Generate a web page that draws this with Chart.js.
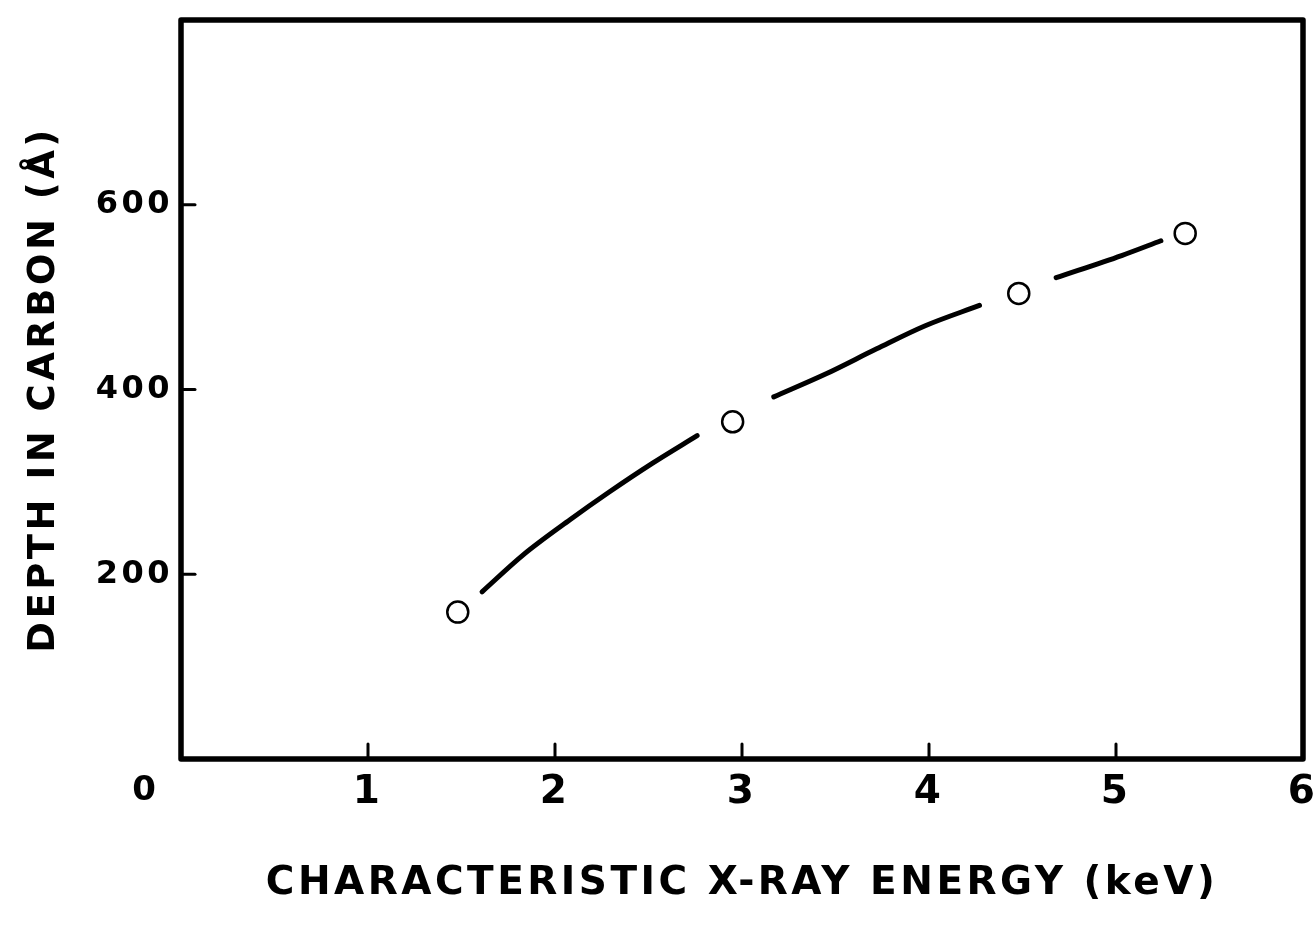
<!DOCTYPE html>
<html>
<head>
<meta charset="utf-8">
<script src="https://cdn.jsdelivr.net/npm/chart.js@4/dist/chart.umd.min.js"></script>
<style>
  html,body{margin:0;padding:0;background:#fff;}
  #wrap{width:1316px;height:933px;position:relative;}
</style>
</head>
<body>
<div id="wrap"><canvas id="c"></canvas></div>
<script>
// measured points (keV, Å)
const energyKeV = [1.48, 2.95, 4.48, 5.37];
const depthA    = [159, 365, 504, 569];

// hand-drawn guide curve, null = break around a marker
const curveX = [1.61, 1.83, 2.08, 2.29, 2.52, 2.76, 2.95, 3.17, 3.45, 3.72, 3.98, 4.27, 4.48, 4.68, 5.03, 5.24];
const curveY = [181,  221,  259,  289,  320,  350,  null, 392,  417,  444,  469,  491,  null, 521,  545,  561];

const xTicks = [0, 1, 2, 3, 4, 5, 6];
const yTicks = [200, 400, 600];

const INK = '#000';
Chart.defaults.font.family = "'DejaVu Sans', sans-serif";
Chart.defaults.color = INK;

// frame + inward tick marks + the offset "0" label; wide lettering for the axes
const frame = {
  id: 'frame',
  beforeDraw(chart) {
    chart.ctx.letterSpacing = '3.5px';
  },
  beforeDatasetsDraw(chart) {
    const {ctx, chartArea: a, scales: {x, y}} = chart;
    ctx.letterSpacing = '0px';
    ctx.save();
    ctx.strokeStyle = INK;
    ctx.lineCap = 'round';
    ctx.lineWidth = 3;
    xTicks.filter(v => v > 0 && v < 6).forEach(v => {
      const px = x.getPixelForValue(v);
      ctx.beginPath(); ctx.moveTo(px, a.bottom); ctx.lineTo(px, a.bottom - 15); ctx.stroke();
    });
    yTicks.forEach(v => {
      const py = y.getPixelForValue(v);
      ctx.beginPath(); ctx.moveTo(a.left, py); ctx.lineTo(a.left + 14, py); ctx.stroke();
    });
    ctx.lineWidth = 5.5;
    ctx.lineJoin = 'round';
    ctx.strokeRect(a.left, a.top, a.right - a.left, a.bottom - a.top);
    ctx.restore();
  },
  afterDraw(chart) {
    const {ctx, chartArea: a, scales: {x}} = chart;
    ctx.save();
    ctx.fillStyle = INK;
    ctx.font = "bold 34px 'DejaVu Sans'";
    ctx.textAlign = 'center';
    ctx.textBaseline = 'middle';
    ctx.fillText('0', x.getPixelForValue(0) - 37, a.bottom + 32);
    ctx.restore();
  }
};

new Chart(document.getElementById('c'), {
  type: 'scatter',
  data: {
    datasets: [
      {
        label: 'points',
        data: energyKeV.map((e, i) => ({x: e, y: depthA[i]})),
        pointStyle: 'circle',
        pointRadius: 10.5,
        pointBorderWidth: 2.5,
        pointBorderColor: INK,
        pointBackgroundColor: '#fff',
        showLine: false,
        order: 0
      },
      {
        label: 'curve',
        data: curveX.map((e, i) => ({x: e, y: curveY[i]})),
        showLine: true,
        spanGaps: false,
        borderColor: INK,
        borderWidth: 5,
        borderCapStyle: 'round',
        cubicInterpolationMode: 'monotone',
        pointRadius: 0,
        order: 1
      }
    ]
  },
  options: {
    responsive: true,
    maintainAspectRatio: false,
    animation: false,
    layout: {padding: {top: 20, right: 12, bottom: 0, left: 0}},
    plugins: {legend: {display: false}, tooltip: {enabled: false}},
    scales: {
      x: {
        type: 'linear', min: 0, max: 6,
        afterFit: s => { s.height = 174; s.paddingLeft = 0; s.paddingRight = 0; },
        afterBuildTicks: s => { s.ticks = xTicks.map(v => ({value: v})); },
        grid: {display: false, drawTicks: false},
        border: {display: false},
        ticks: {
          padding: 10,
          font: {size: 39, weight: 'bold'},
          color: INK,
          callback: v => v === 0 ? '' : v
        },
        title: {
          display: true,
          text: 'CHARACTERISTIC X-RAY ENERGY (keV)',
          font: {size: 39, weight: 'bold'},
          color: INK,
          padding: {top: 0, bottom: 26}
        }
      },
      y: {
        type: 'linear', min: 0, max: 800,
        afterFit: s => { s.width = 181; s.paddingTop = 0; s.paddingBottom = 0; },
        afterBuildTicks: s => { s.ticks = yTicks.map(v => ({value: v})); },
        grid: {display: false, drawTicks: false},
        border: {display: false},
        ticks: {
          padding: 8,
          font: {size: 32, weight: 'bold'},
          color: INK
        },
        title: {
          display: true,
          text: 'DEPTH IN CARBON (Å)',
          font: {size: 37, weight: 'bold'},
          color: INK,
          padding: {top: 22, bottom: 0}
        }
      }
    }
  },
  plugins: [frame]
});
</script>
</body>
</html>
